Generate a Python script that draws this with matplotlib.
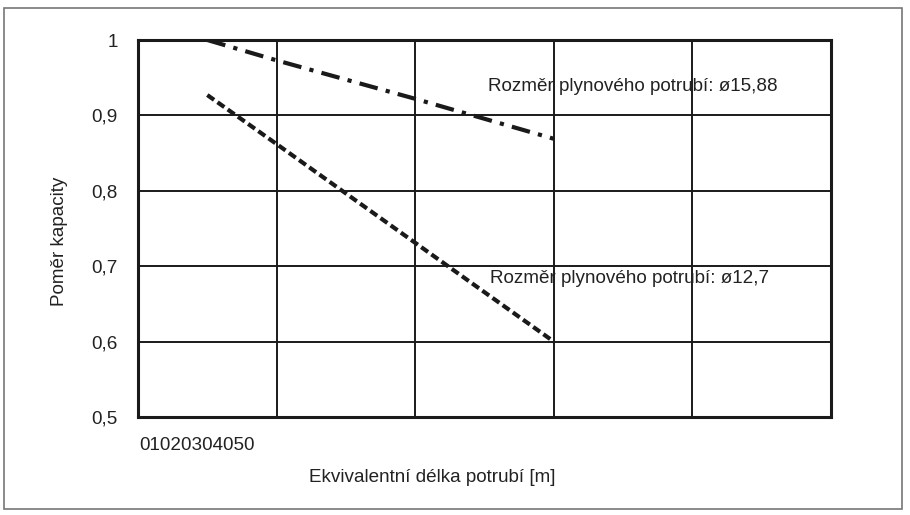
import matplotlib
matplotlib.use("Agg")
import matplotlib.pyplot as plt
import matplotlib.transforms as mtransforms
from matplotlib.patches import Rectangle

plt.rcParams['font.family'] = ['Liberation Sans', 'DejaVu Sans']

# Data
x_ticks = [0, 10, 20, 30, 40, 50]
x_tick_labels = ['0', '10', '20', '30', '40', '50']
y_ticks = [0.5, 0.6, 0.7, 0.8, 0.9, 1.0]
y_tick_labels = ['0,5', '0,6', '0,7', '0,8', '0,9', '1']

len_1588 = [5, 10, 20, 30]
ratio_1588 = [1.0, 0.973, 0.922, 0.869]
len_127 = [5, 10, 20, 30]
ratio_127 = [0.927, 0.862, 0.731, 0.600]

label_1588 = 'Rozměr plynového potrubí: ø15,88'
label_127 = 'Rozměr plynového potrubí: ø12,7'
x_label = 'Ekvivalentní délka potrubí [m]'
y_label = 'Poměr kapacity'

FS = 13.6
TXT = '#222222'

W, H = 910, 515
fig = plt.figure(figsize=(W / 100, H / 100), dpi=100)
fig.patch.set_facecolor('white')

# outer border
fig.add_artist(Rectangle((4 / W, 1 - 509 / H), (902 - 4) / W, (509 - 8) / H,
                         transform=fig.transFigure, fill=False,
                         edgecolor='#777777', linewidth=1.2))

L, R, T, B = 138, 831, 40, 417
ax = fig.add_axes([L / W, 1 - B / H, (R - L) / W, (B - T) / H])
ax.set_xlim(x_ticks[0], x_ticks[-1])
ax.set_ylim(y_ticks[0], y_ticks[-1])

for s in ax.spines.values():
    s.set_linewidth(2.2)
    s.set_color('#1a1a1a')

ax.set_xticks(x_ticks)
ax.set_xticklabels([])
ax.set_yticks(y_ticks)
ax.set_yticklabels(y_tick_labels, fontsize=FS, color=TXT)
ax.tick_params(axis='both', length=0)
ax.tick_params(axis='y', pad=14.5)
ax.grid(True, color='#1a1a1a', linewidth=1.4)
ax.set_axisbelow(True)

ax.plot(len_1588, ratio_1588, color='#1a1a1a', linewidth=3.0,
        dashes=(4.5, 2.0, 1.0, 2.0), solid_capstyle='butt')
ax.plot(len_127, ratio_127, color='#1a1a1a', linewidth=3.0,
        dashes=(2.0, 1.0))

ax.text(25.25, 0.938, label_1588, fontsize=FS, color=TXT,
        ha='left', va='center')
ax.text(25.4, 0.684, label_127, fontsize=FS, color=TXT,
        ha='left', va='center')

trans = mtransforms.blended_transform_factory(ax.transData, ax.transAxes)
ax.text(0.1, (B - 445) / (B - T), ''.join(x_tick_labels), transform=trans,
        fontsize=FS, color=TXT, ha='left', va='center')

fig.text(309 / W, 1 - 478 / H, x_label, fontsize=FS, color=TXT,
         ha='left', va='center')
fig.text(59 / W, 1 - 241 / H, y_label, fontsize=FS, color=TXT,
         ha='center', va='center', rotation=90)

fig.savefig('out.png', dpi=100, facecolor='white')
